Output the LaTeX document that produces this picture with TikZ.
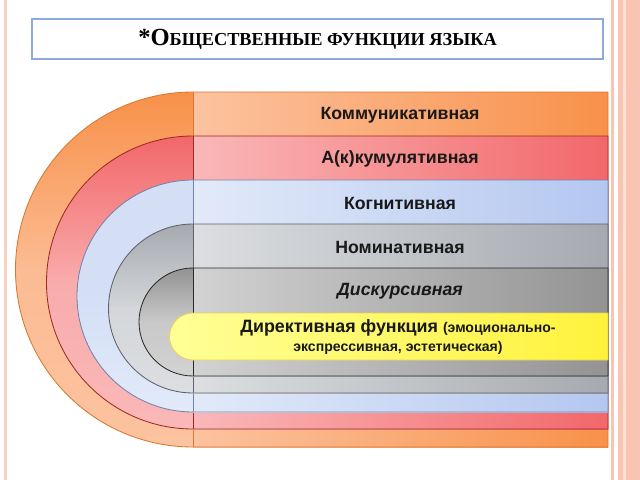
\documentclass[tikz,border=0pt]{standalone}
\usepackage{fontspec}
\setmainfont{Liberation Sans}
\newfontfamily\titlefont{Liberation Serif}
\usetikzlibrary{positioning}

\definecolor{framepink}{HTML}{F9C4B2}
\definecolor{titleblue}{HTML}{8EAADB}
\definecolor{orangeL}{HTML}{FCC3A0}
\definecolor{orangeD}{HTML}{F8914A}
\definecolor{orangeB}{HTML}{D9782F}
\definecolor{redL}{HTML}{FAB8B8}
\definecolor{redD}{HTML}{F2676A}
\definecolor{redB}{HTML}{9E2A22}
\definecolor{blueL}{HTML}{E2EAF9}
\definecolor{blueD}{HTML}{B4C7F0}
\definecolor{blueB}{HTML}{7382B0}
\definecolor{greyL}{HTML}{DCDEE1}
\definecolor{greyD}{HTML}{A6AAB0}
\definecolor{greyB}{HTML}{5E6268}
\definecolor{darkL}{HTML}{D2D2D2}
\definecolor{darkD}{HTML}{939393}
\definecolor{darkB}{HTML}{2A2A2A}
\definecolor{yellowL}{HTML}{FFFF96}
\definecolor{yellowD}{HTML}{FFF23C}
\definecolor{yellowB}{HTML}{E3D25A}

\tikzset{
    bandtext/.style={font=\bfseries\fontsize{12.6}{14}\selectfont, text=black!90},
    titlebox/.style={draw=titleblue, line width=1.1pt, fill=white},
    rimline/.style={line width=0.6pt},
}

% one layer: top, bottom, light colour, dark colour, border colour, arc top colour
\newcommand{\funclayer}[6]{%
    \shade[top color=#6, bottom color=#3, middle color=#3!85!#6]
        (193,#1) arc[start angle=270, end angle=90, radius={(#2-#1)/2}] -- cycle;
    \shade[left color=#3, right color=#4] (193,#1) rectangle (608,#2);
    \draw[#5, rimline] (608,#1) -- (193,#1)
        arc[start angle=270, end angle=90, radius={(#2-#1)/2}] -- (608,#2) -- cycle;
    \draw[#5, rimline] (193,#1) -- (193,#2);
}

\begin{document}
\begin{tikzpicture}[x=0.025cm, y=-0.025cm]
    \useasboundingbox (0,0) rectangle (640,480);
    % slide frame
    \fill[white] (0,0) rectangle (640,480);
    \draw[framepink!80, line width=2.2pt] (5.5,0) -- (5.5,480);
    \draw[framepink, line width=1.6pt] (612.5,0) -- (612.5,480);
    \fill[framepink] (618,0) rectangle (640,480);
    \fill[framepink!55] (623,0) rectangle (625.5,480);
    %
    \node[titlebox, minimum width=571*0.025cm, minimum height=40*0.025cm] (titel) at (317.5,39) {};
    \node[font=\titlefont\bfseries] (titeltext) at (titel.center)
        {\fontsize{17.5}{20}\selectfont *О\fontsize{13}{20}\selectfont БЩЕСТВЕННЫЕ ФУНКЦИИ ЯЗЫКА};
    %
    \funclayer{92}{447}{orangeL}{orangeD}{orangeB}{orangeD}
    \funclayer{136}{429}{redL}{redD}{redB}{redD}
    \funclayer{180}{412}{blueL}{blueD}{blueB}{blueL!70!blueD}
    \funclayer{224}{393}{greyL}{greyD}{greyB}{greyD}
    \funclayer{268}{376}{darkL}{darkD}{darkB}{darkD}
    \shade[left color=yellowL, right color=yellowD, draw=yellowB, rimline]
        (608,313) -- (193,313) arc[start angle=270, end angle=90, radius=23.5]
        -- (608,360) -- cycle;
    %
    \node[bandtext] (komm) at (400,115) {Коммуникативная};
    \node[bandtext] (akkum) at (400,159) {А(к)кумулятивная};
    \node[bandtext] (kogn) at (400,203) {Когнитивная};
    \node[bandtext] (nomin) at (400,247) {Номинативная};
    \node[bandtext, font=\bfseries\itshape\fontsize{12.6}{14}\selectfont] (disk) at (400,291) {Дискурсивная};
    \node[bandtext, align=center] (direkt) at (398,337)
        {{\fontsize{12.7}{14}\selectfont Директивная функция} {\fontsize{10}{11}\selectfont (эмоционально-}\\[-1pt]
         {\fontsize{10}{11}\selectfont экспрессивная, эстетическая)}};
\end{tikzpicture}
\end{document}
